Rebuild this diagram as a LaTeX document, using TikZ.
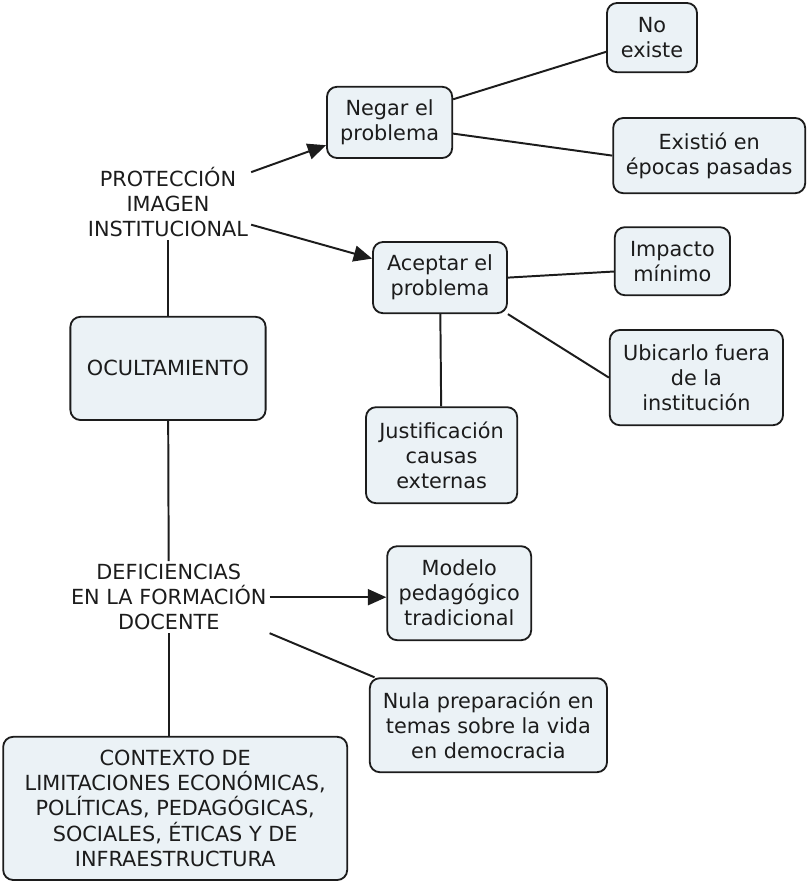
\documentclass[tikz,border=0pt]{standalone}
\usepackage{fontspec}
\setmainfont{DejaVu Sans}
\usetikzlibrary{arrows.meta}
\definecolor{boxfill}{HTML}{EBF2F6}
\definecolor{ink}{HTML}{1C1C1C}

\begin{document}
\begin{tikzpicture}[
  font=\fontsize{14.8pt}{17.8pt}\selectfont, text=ink,
  box/.style={draw=ink, fill=boxfill, line width=1.3pt, rounded corners=0.25cm, align=center, inner sep=2pt},
  concept/.style={align=center, inner sep=2pt},
  lnk/.style={draw=ink, line width=1.4pt},
  arw/.style={lnk, -{Triangle[length=0.46cm, width=0.4cm]}}
]
\useasboundingbox (0,0) rectangle (20.175,-22.075);

\node (P) at (4.2,-5.06) [concept]{PROTECCIÓN\\IMAGEN\\INSTITUCIONAL};

\node (P-1) at (9.74,-3.06) [box, minimum width=3.13cm, minimum height=1.78cm]{Negar el\\problema};
\node (P-1-1) at (16.3,-0.94) [box, minimum width=2.25cm, minimum height=1.73cm]{No\\existe};
\node (P-1-2) at (17.73,-3.89) [box, minimum width=4.8cm, minimum height=1.88cm]{Existió en\\épocas pasadas};

\node (P-2) at (11.0,-6.94) [box, minimum width=3.35cm, minimum height=1.78cm]{Aceptar el\\problema};
\node (P-2-1) at (16.81,-6.53) [box, minimum width=2.88cm, minimum height=1.7cm]{Impacto\\mínimo};
\node (P-2-2) at (17.41,-9.44) [box, minimum width=4.33cm, minimum height=2.38cm]{Ubicarlo fuera\\de la\\institución};
\node (P-2-3) at (11.04,-11.38) [box, minimum width=3.78cm, minimum height=2.4cm]{Justificación\\causas\\externas};

\node (O) at (4.2,-9.21) [box, minimum width=4.88cm, minimum height=2.58cm]{OCULTAMIENTO};

\node (D) at (4.22,-14.93) [concept]{DEFICIENCIAS\\EN LA FORMACIÓN\\DOCENTE};
\node (D-1) at (11.48,-14.83) [box, minimum width=3.6cm, minimum height=2.35cm]{Modelo\\pedagógico\\tradicional};
\node (D-2) at (12.21,-18.13) [box, minimum width=5.93cm, minimum height=2.35cm]{Nula preparación en\\temas sobre la vida\\en democracia};

\node (C) at (4.38,-20.21) [box, minimum width=8.6cm, minimum height=3.58cm]{CONTEXTO DE\\LIMITACIONES ECONÓMICAS,\\POLÍTICAS, PEDAGÓGICAS,\\SOCIALES, ÉTICAS Y DE\\INFRAESTRUCTURA};

\draw [arw] (P.20) -- (P-1);
\draw [arw] (P.-15) -- (P-2);
\draw [lnk] (P) -- (O);

\draw [lnk] (P-1.20) -- (P-1-1);
\draw [lnk] (P-1.-10) -- (P-1-2.west);

\draw [lnk] (P-2.east) -- (P-2-1.190);
\draw [lnk] (P-2.south east) -- (P-2-2.west);
\draw [lnk] (P-2) -- (P-2-3);

\draw [lnk] (O) -- (D);
\draw [arw] (D.east) -- (D.east -| D-1.west);
\draw [lnk] (D.south east) -- (D-2);
\draw [lnk] (D) -- (D |- C.north);

\end{tikzpicture}
\end{document}
